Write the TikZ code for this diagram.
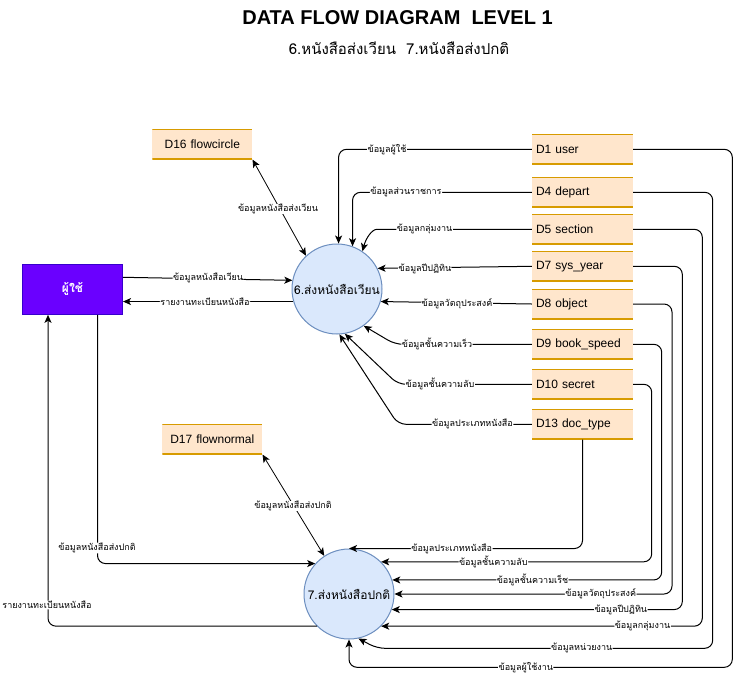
\documentclass[tikz,border=0pt]{standalone}
\usepackage{fontspec}
\setmainfont{Liberation Sans}
\newfontfamily\thai[Script=Thai]{Loma}
\usetikzlibrary{arrows.meta}
\definecolor{storefill}{HTML}{FFE6CC}
\definecolor{storeline}{HTML}{D79B00}
\definecolor{procfill}{HTML}{DAE8FC}
\definecolor{procline}{HTML}{6C8EBF}
\definecolor{entfill}{HTML}{6A00FF}
\definecolor{entline}{HTML}{3700CC}
\tikzset{
  store/.style={rectangle, fill=storefill, minimum height=30pt, text width=93pt, inner xsep=4pt, inner ysep=0pt, align=left,
    font=\fontsize{12}{14}\selectfont,
    path picture={\draw[storeline, line width=2pt] (path picture bounding box.north west) -- (path picture bounding box.north east);
                  \draw[storeline, line width=2pt] (path picture bounding box.south west) -- (path picture bounding box.south east);}},
  proc/.style={circle, fill=procfill, draw=procline, line width=1pt, minimum size=90pt, inner sep=0pt, font=\thai\fontsize{12}{14}\selectfont},
  ent/.style={rectangle, fill=entfill, draw=entline, line width=1pt, minimum width=100pt, minimum height=50pt, text=white, font=\thai\bfseries\fontsize{12}{14}\selectfont},
  flow/.style={draw=black, line width=1pt, rounded corners=8pt, -{Stealth[length=8pt,width=7pt,inset=2pt]}},
  biflow/.style={draw=black, line width=0.8pt, {Stealth[length=8pt,width=7pt,inset=2pt]}-{Stealth[length=8pt,width=7pt,inset=2pt]}},
  lbl/.style={fill=white, inner sep=0.5pt, font=\thai\fontsize{9}{10}\selectfont}
}
\begin{document}
\begin{tikzpicture}[x=1pt,y=-1pt]
\useasboundingbox (0,0) rectangle (741,678);
\fill[white] (0,0) rectangle (741,678);
% titles
\node[font=\bfseries\fontsize{20}{22}\selectfont] (title) at (397.5,18) {DATA FLOW DIAGRAM\ \ LEVEL 1};
\node[font=\thai\fontsize{15}{17}\selectfont] (subtitle) at (399,48) {6.หนังสือส่งเวียน\ \ 7.หนังสือส่งปกติ};
% nodes
\node[ent] (u) at (72.5,289.3) {ผู้ใช้};
\node[proc] (c6) at (337,289) {6.ส่งหนังสือเวียน};
\node[proc] (c7) at (349,594) {7.ส่งหนังสือปกติ};
\node[store, text width=92pt, align=center] (d16) at (202.3,144.3) {D16 flowcircle};
\node[store, text width=92pt, align=center] (d17) at (212.3,439.3) {D17 flownormal};
\node[store] (d1) at (582.5,149.3) {D1 user};
\node[store] (d4) at (582.5,192.3) {D4 depart};
\node[store] (d5) at (582.5,229.3) {D5 section};
\node[store] (d7) at (582.5,266.3) {D7 sys\_year};
\node[store] (d8) at (582.5,304) {D8 object};
\node[store] (d9) at (582.5,344.3) {D9 book\_speed};
\node[store] (d10) at (582.5,384.3) {D10 secret};
\node[store] (d13) at (582.5,424.3) {D13 doc\_type};
% user <-> c6
\draw[flow] ([yshift=12pt]u.east) -- (c6.169) node[lbl] at (208,278) {ข้อมูลหนังสือเวียน};
\draw[flow] (c6.-164) -- (u.east |- c6.-164) node[lbl] at (205,302) {รายงานทะเบียนหนังสือ};
% user <-> c7
\draw[flow] ([xshift=25pt]u.south) |- (c7.138) node[lbl] at (97,548) {ข้อมูลหนังสือส่งปกติ};
\draw[flow] (c7.225) -| ([xshift=-24.5pt]u.south) node[lbl] at (47,605) {รายงานทะเบียนหนังสือ};
% data stores bidirectional
\draw[biflow] (d16.south east) -- (c6.133) node[lbl] at (278,209) {ข้อมูลหนังสือส่งเวียน};
\draw[biflow] (d17.south east) -- (c7.123) node[lbl] at (293,506) {ข้อมูลหนังสือส่งปกติ};
% stores -> c6
\draw[flow] (d1.west) -| (c6.88) node[lbl] at (387,149.3) {ข้อมูลผู้ใช้};
\draw[flow] (d4.west) -| (c6.70) node[lbl] at (406,192.3) {ข้อมูลส่วนราชการ};
\draw[flow] (d5.west) -- (385,229.3) .. controls (372,229.3) and (366,238) .. (c6.56) node[lbl] at (424.5,229.3) {ข้อมูลกลุ่มงาน};
\draw[flow] (d7.west) -- (c6.27) node[lbl] at (425,269) {ข้อมูลปีปฏิทิน};
\draw[flow] (d8.west) -- (c6.-16) node[lbl] at (457,303.5) {ข้อมูลวัตถุประสงค์};
\draw[flow] (d9.west) -- (395,344.3) -- (c6.-54) node[lbl] at (437,344.3) {ข้อมูลชั้นความเร็ว};
\draw[flow] (d10.west) -- (398,384.3) -- (c6.-80) node[lbl] at (440,384.3) {ข้อมูลชั้นความลับ};
\draw[flow] (d13.west) -- (398,424.3) -- (c6.-87) node[lbl] at (472.5,424.3) {ข้อมูลประเภทหนังสือ};
% stores -> c7
\draw[flow] (d13.south) |- (c7.90) node[lbl] at (451.7,549) {ข้อมูลประเภทหนังสือ};
\draw[flow] (d10.east) -- (651.7,384.3) |- (c7.45) node[lbl] at (493.3,562.2) {ข้อมูลชั้นความลับ};
\draw[flow] (d9.east) -- (661.7,344.3) |- (c7.18) node[lbl] at (532.5,580) {ข้อมูลชั้นความเร็ช};
\draw[flow] (d8.east) -- (672,304) |- (c7.0) node[lbl] at (600.8,594) {ข้อมูลวัตถุประสงค์};
\draw[flow] (d7.east) -- (682.3,266.3) |- (c7.-20) node[lbl] at (620.8,609.4) {ข้อมูลปีปฏิทิน};
\draw[flow] (d5.east) -- (702.3,229.3) |- (c7.-45) node[lbl] at (642.5,625.8) {ข้อมูลกลุ่มงาน};
\draw[flow] (d4.east) -- (712.7,192.3) -- (712.7,648.3) -- (377,648.3) -- (c7.-78) node[lbl] at (581.7,648.3) {ข้อมูลหน่วยงาน};
\draw[flow] (d1.east) -- (732.3,149.3) -- (732.3,667.3) -- (349,667.3) -- (c7.-90) node[lbl] at (525.8,667.3) {ข้อมูลผู้ใช้งาน};
\end{tikzpicture}
\end{document}
